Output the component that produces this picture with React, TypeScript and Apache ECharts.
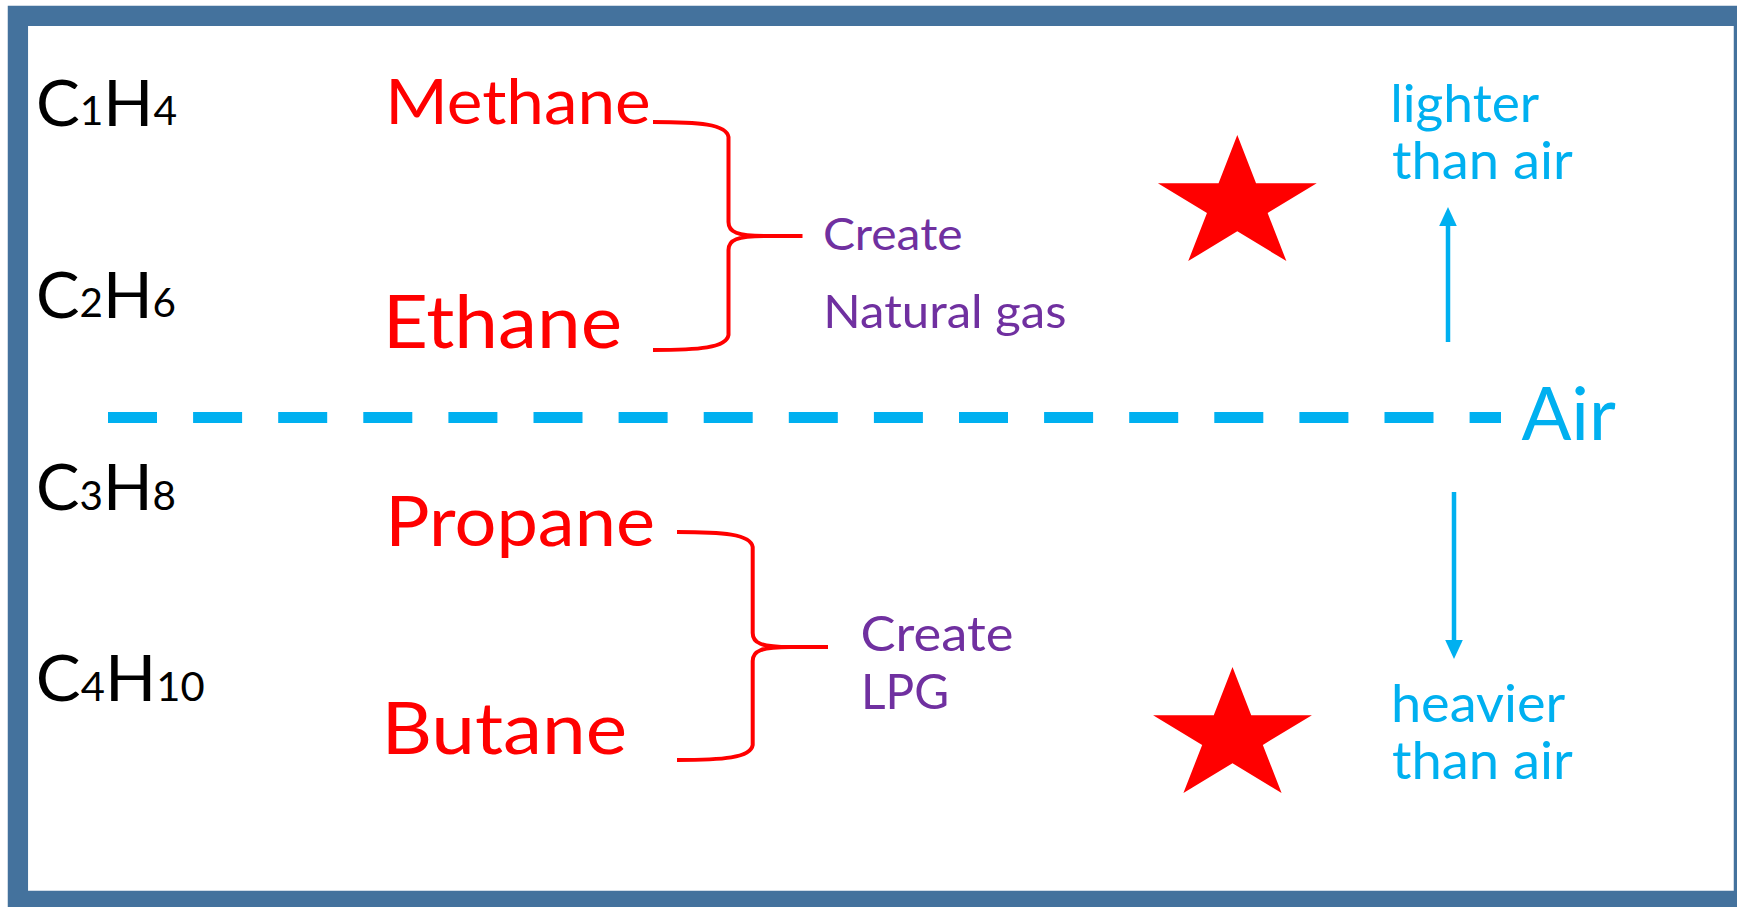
import React, { useEffect, useRef } from 'react';
import * as echarts from 'echarts';

// ---------------- content ----------------
const formulas = ['C1H4', 'C2H6', 'C3H8', 'C4H10'];
const gasNames = ['Methane', 'Ethane', 'Propane', 'Butane'];
const mixtureLabels = [['Create', 'Natural gas'], ['Create', 'LPG']];
const airLabel = 'Air';
const buoyancyLabels = [['lighter', 'than air'], ['heavier', 'than air']];

// ---------------- layout (pixels) ----------------
const FONT = 'Lato';
const W = 1737;
const H = 907;
// SVG "central" baseline sits a little lower than canvas "middle": correction in em
const CENTRAL_FIX = 0.06;

const formulaBoxes = [
  { left: 39, right: 176, baseline: 125.3 },
  { left: 39, right: 175, baseline: 317.3 },
  { left: 39, right: 175, baseline: 509.4 },
  { left: 39, right: 203.5, baseline: 700.6 },
];
const FORMULA_CAP = 46.7;
const FORMULA_DIGIT = 29;

const gasBoxes = [
  { left: 390.7, right: 649, baseline: 123.3, cap: 45 },
  { left: 389, right: 620, baseline: 347.7, cap: 54 },
  { left: 391.7, right: 653, baseline: 545.7, cap: 51 },
  { left: 388, right: 625, baseline: 754.3, cap: 52.6 },
];
const mixtureBoxes = [
  [
    { left: 825, right: 961.7, baseline: 249.5, cap: 33 },
    { left: 827.5, right: 1065, baseline: 327.7, cap: 34.4 },
  ],
  [
    { left: 862.7, right: 1012, baseline: 651, cap: 35 },
    { left: 865, right: 946.7, baseline: 708, cap: 35.5 },
  ],
];
const airBox = { left: 1521.4, right: 1616, baseline: 439.3, cap: 54 };
const buoyancyBoxes = [
  [
    { left: 1393.3, right: 1539, baseline: 121.7, asc: 39 },
    { left: 1393, right: 1573, baseline: 178, asc: 38.5 },
  ],
  [
    { left: 1394, right: 1565, baseline: 721.7, asc: 39 },
    { left: 1393, right: 1573, baseline: 778, asc: 38.5 },
  ],
];

const braces = [
  { L: 653, T: 122, B: 350, S: 728.5, X: 802.5, Y: 236 },
  { L: 677, T: 532, B: 760, S: 752.7, X: 828, Y: 647 },
];
const stars = [
  { cx: 1237.3, cy: 204.7, rx: 83.5, ry: 69.7 },
  { cx: 1232.5, cy: 736.7, rx: 83.5, ry: 69.7 },
];
const arrows = [
  { x: 1448, from: 342, to: 207 },
  { x: 1454, from: 492, to: 659 },
];
const dashLine = { x1: 108, x2: 1501, y: 417.5, width: 11, dash: [49, 36.1] };
const frame = { x: 17.9, y: 15.8, w: 1726, h: 885, lw: 20.3 };

const COLORS = {
  frame: '#44729D',
  black: '#000000',
  red: '#FF0000',
  purple: '#7030A0',
  blue: '#00B0F0',
};

// ---------------- helpers ----------------
let ctx: CanvasRenderingContext2D | null = null;
function metrics(text: string, size: number) {
  if (!ctx) ctx = document.createElement('canvas').getContext('2d');
  const c = ctx as CanvasRenderingContext2D;
  c.font = `${size}px ${FONT}`;
  c.textBaseline = 'alphabetic';
  const a = c.measureText(text);
  c.textBaseline = 'middle';
  const m = c.measureText(text);
  return {
    width: a.width,
    inkL: -a.actualBoundingBoxLeft,
    inkR: a.actualBoundingBoxRight,
    asc: a.actualBoundingBoxAscent,
    mid: a.actualBoundingBoxAscent - m.actualBoundingBoxAscent + CENTRAL_FIX * size,
  };
}

function textStyle(text: string, size: number, color: string) {
  return {
    text,
    x: 0,
    y: 0,
    fontSize: size,
    fontFamily: FONT,
    fill: color,
    textAlign: 'left',
    textVerticalAlign: 'middle',
    align: 'left',
    verticalAlign: 'middle',
  };
}

function fittedText(
  text: string,
  box: { left: number; right: number; baseline: number },
  refGlyph: string,
  refH: number,
  color: string
) {
  const ref = metrics(refGlyph, 100);
  const size = refH / (ref.asc / 100);
  const m = metrics(text, size);
  const s = (box.right - box.left) / (m.inkR - m.inkL);
  return {
    type: 'text',
    silent: true,
    x: box.left - s * m.inkL,
    y: box.baseline - m.mid,
    scaleX: s,
    style: textStyle(text, size, color),
  };
}

function formulaEls(formula: string, box: { left: number; right: number; baseline: number }) {
  const tokens = formula.match(/[A-Z][a-z]?|\d+/g) || [];
  const big = FORMULA_CAP / (metrics('H', 100).asc / 100);
  const small = FORMULA_DIGIT / (metrics('1', 100).asc / 100);
  let cursor = 0;
  const items = tokens.map((t) => {
    const size = /\d/.test(t) ? small : big;
    const m = metrics(t, size);
    const it = { t, size, m, pos: cursor };
    cursor += m.width;
    return it;
  });
  const first = items[0];
  const last = items[items.length - 1];
  const inkStart = first.pos + first.m.inkL;
  const inkEnd = last.pos + last.m.inkR;
  const s = (box.right - box.left) / (inkEnd - inkStart);
  return items.map((it) => ({
    type: 'text',
    silent: true,
    x: box.left + s * (it.pos - inkStart),
    y: box.baseline - it.m.mid,
    scaleX: s,
    style: textStyle(it.t, it.size, COLORS.black),
  }));
}

function bracePath(b: { L: number; T: number; B: number; S: number; X: number; Y: number }) {
  const { L, T, B, S, X, Y } = b;
  return [
    `M${L} ${T}`,
    `C${S - 30} ${T} ${S - 2} ${T + 2} ${S} ${T + 15}`,
    `L${S} ${Y - 14}`,
    `C${S} ${Y - 4} ${S + 8} ${Y} ${S + 38} ${Y}`,
    `L${X} ${Y}`,
    `M${S + 38} ${Y}`,
    `C${S + 8} ${Y} ${S} ${Y + 4} ${S} ${Y + 14}`,
    `L${S} ${B - 15}`,
    `C${S - 2} ${B - 2} ${S - 30} ${B} ${L} ${B}`,
  ].join(' ');
}

function starPoints(st: { cx: number; cy: number; rx: number; ry: number }) {
  const pts: number[][] = [];
  const inner = 0.382;
  for (let i = 0; i < 10; i++) {
    const ang = (-90 + i * 36) * (Math.PI / 180);
    const r = i % 2 === 0 ? 1 : inner;
    pts.push([st.cx + Math.cos(ang) * r * st.rx, st.cy + Math.sin(ang) * r * st.ry]);
  }
  return pts;
}

function arrowEls(a: { x: number; from: number; to: number }) {
  const dir = a.to > a.from ? 1 : -1;
  const headLen = 19;
  const headHalf = 8.8;
  const base = a.to - dir * headLen;
  return [
    {
      type: 'line',
      silent: true,
      shape: { x1: a.x, y1: a.from, x2: a.x, y2: base + dir * 2 },
      style: { stroke: COLORS.blue, lineWidth: 4.5 },
    },
    {
      type: 'polygon',
      silent: true,
      shape: { points: [[a.x, a.to], [a.x - headHalf, base], [a.x + headHalf, base]] },
      style: { fill: COLORS.blue },
    },
  ];
}

function buildOption() {
  const elements: any[] = [];

  elements.push({
    type: 'rect',
    silent: true,
    shape: { x: frame.x, y: frame.y, width: frame.w, height: frame.h },
    style: { fill: '#FFFFFF', stroke: COLORS.frame, lineWidth: frame.lw },
  });

  // dashed "air" line
  elements.push({
    type: 'line',
    silent: true,
    shape: { x1: dashLine.x1, y1: dashLine.y, x2: dashLine.x2, y2: dashLine.y },
    style: { stroke: COLORS.blue, lineWidth: dashLine.width, lineDash: dashLine.dash, lineCap: 'butt' },
  });
  elements.push(fittedText(airLabel, airBox, 'H', airBox.cap, COLORS.blue));

  formulas.forEach((f, i) => elements.push(...formulaEls(f, formulaBoxes[i])));
  gasNames.forEach((g, i) => elements.push(fittedText(g, gasBoxes[i], 'H', gasBoxes[i].cap, COLORS.red)));

  mixtureLabels.forEach((lines, gi) =>
    lines.forEach((t, li) => {
      const bx = mixtureBoxes[gi][li];
      elements.push(fittedText(t, bx, 'H', bx.cap, COLORS.purple));
    })
  );

  buoyancyLabels.forEach((lines, gi) =>
    lines.forEach((t, li) => {
      const bx = buoyancyBoxes[gi][li];
      elements.push(fittedText(t, bx, 'h', bx.asc, COLORS.blue));
    })
  );

  braces.forEach((b, i) => {
    const name = 'gasBrace' + i;
    echarts.graphic.registerShape(name, echarts.graphic.extendPath(bracePath(b), {}) as any);
    elements.push({
      type: name,
      silent: true,
      x: 0,
      y: 0,
      style: { fill: 'none', stroke: COLORS.red, lineWidth: 4, lineJoin: 'round' },
    });
  });

  stars.forEach((st) =>
    elements.push({
      type: 'polygon',
      silent: true,
      shape: { points: starPoints(st) },
      style: { fill: COLORS.red },
    })
  );

  arrows.forEach((a) => elements.push(...arrowEls(a)));

  return {
    animation: false,
    backgroundColor: '#FFFFFF',
    graphic: { elements },
  };
}

export default function App() {
  const ref = useRef<HTMLDivElement>(null);
  useEffect(() => {
    if (!ref.current) return;
    const chart = echarts.init(ref.current, undefined, { renderer: 'svg' });
    chart.setOption(buildOption() as any);
    return () => chart.dispose();
  }, []);
  return (
    <div
      ref={ref}
      style={{ position: 'absolute', left: 0, top: 0, width: W, height: H }}
    />
  );
}
